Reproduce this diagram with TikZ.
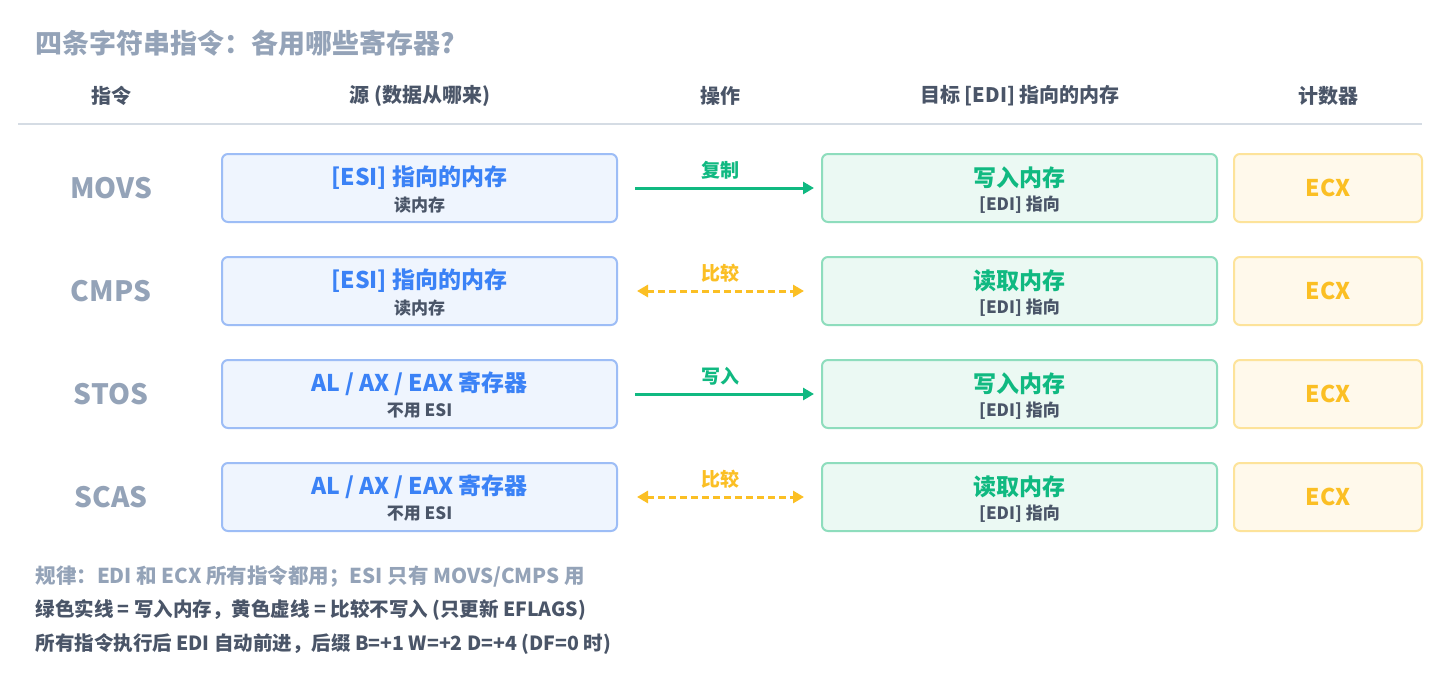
\documentclass[tikz,border=0pt]{standalone}
\usepackage{fontspec}
\setmainfont{Noto Sans CJK SC}
\usetikzlibrary{arrows.meta}
\definecolor{titlegray}{HTML}{94A3B8}
\definecolor{headgray}{HTML}{4A5568}
\definecolor{rulegray}{HTML}{D5DCE4}
\definecolor{srcborder}{HTML}{9DBDF6}
\definecolor{srcfill}{HTML}{EFF5FE}
\definecolor{srctext}{HTML}{3B82F6}
\definecolor{dstborder}{HTML}{8EDDBD}
\definecolor{dstfill}{HTML}{EBF9F3}
\definecolor{dsttext}{HTML}{10B981}
\definecolor{ecxborder}{HTML}{FDE39A}
\definecolor{ecxfill}{HTML}{FFF9EB}
\definecolor{ecxtext}{HTML}{FBBF24}
\definecolor{subgray}{HTML}{4A5568}
\tikzset{
  box/.style={rounded corners=6pt, line width=2pt, minimum height=68pt, inner sep=0pt},
  srcbox/.style={box, draw=srcborder, fill=srcfill, minimum width=395pt},
  dstbox/.style={box, draw=dstborder, fill=dstfill, minimum width=395pt},
  ecxbox/.style={box, draw=ecxborder, fill=ecxfill, minimum width=188pt,
    font=\fontsize{23}{27}\selectfont\bfseries, text=ecxtext},
  rowlabel/.style={font=\fontsize{28}{32}\selectfont\bfseries, text=titlegray},
  headtxt/.style={font=\fontsize{20}{24}\selectfont\bfseries, text=headgray},
  srcmain/.style={font=\fontsize{23}{27}\selectfont\bfseries, text=srctext},
  dstmain/.style={font=\fontsize{23}{27}\selectfont\bfseries, text=dsttext},
  subtxt/.style={font=\fontsize{17}{20}\selectfont\bfseries, text=subgray},
  oplabel/.style={font=\fontsize{19}{22}\selectfont\bfseries},
  writearrow/.style={draw=dsttext, line width=3pt, -{Triangle[length=11pt,width=12pt]},
    shorten <=17pt, shorten >=7pt},
  cmparrow/.style={draw=ecxtext, line width=3pt, dash pattern=on 7pt off 4pt,
    {Triangle[length=11pt,width=12pt]}-{Triangle[length=11pt,width=12pt]},
    shorten <=19pt, shorten >=17pt},
  foot/.style={anchor=west},
}
\begin{document}
\begin{tikzpicture}[x=1pt,y=-1pt]
\useasboundingbox[fill=white] (0,0) rectangle (1440,693);

\node[anchor=west, font=\fontsize{27}{31}\selectfont\bfseries, text=titlegray] (title) at (32,43) {四条字符串指令：各用哪些寄存器?};

\node[headtxt] (h1) at (111,96) {指令};
\node[headtxt] (h2) at (420,96) {源 (数据从哪来)};
\node[headtxt] (h3) at (720,96) {操作};
\node[headtxt] (h4) at (1020,96) {目标 [EDI] 指向的内存};
\node[headtxt] (h5) at (1328,96) {计数器};
\coordinate (rl) at (18,124);
\coordinate (rr) at (1422,124);
\draw[rulegray, line width=1.2pt] (rl) -- (rr);

% rows
\foreach \i/\y/\ins/\smain/\ssub/\dmain/\op/\kind in {
  1/188/MOVS/{[ESI] 指向的内存}/读内存/写入内存/复制/w,
  2/291/CMPS/{[ESI] 指向的内存}/读内存/读取内存/比较/c,
  3/394/STOS/{AL / AX / EAX 寄存器}/不用 ESI/写入内存/写入/w,
  4/497/SCAS/{AL / AX / EAX 寄存器}/不用 ESI/读取内存/比较/c}{
  \node[rowlabel] (lab\i) at (111,\y) {\ins};
  \node[srcbox] (src\i) at (419.5,\y) {};
  \node[srcmain] (srcm\i) at (419.5,\y-10) {\smain};
  \node[subtxt] (srcs\i) at (419.5,\y+17) {\ssub};
  \node[dstbox] (dst\i) at (1019.5,\y) {};
  \node[dstmain] (dstm\i) at (1019.5,\y-10) {\dmain};
  \node[subtxt] (dsts\i) at (1019.5,\y+17) {[EDI] 指向};
  \node[ecxbox] (ecx\i) at (1328,\y) {ECX};
  \if\kind w
    \node[oplabel, text=dsttext] (op\i) at (720,\y-18) {\op};
    \draw[writearrow] (src\i.east) -- (dst\i.west);
  \else
    \node[oplabel, text=ecxtext] (op\i) at (720,\y-18) {\op};
    \draw[cmparrow] (src\i.east) -- (dst\i.west);
  \fi
}

\node[foot, font=\fontsize{20.5}{24}\selectfont\bfseries, text=titlegray] (f1) at (32,577) {规律：EDI 和 ECX 所有指令都用；ESI 只有 MOVS/CMPS 用};
\node[foot, font=\fontsize{19.5}{23}\selectfont\bfseries, text=headgray] (f2) at (32,610) {绿色实线 = 写入内存，黄色虚线 = 比较不写入 (只更新 EFLAGS)};
\node[foot, font=\fontsize{19.5}{23}\selectfont\bfseries, text=headgray] (f3) at (32,644) {所有指令执行后 EDI 自动前进，后缀 B=+1 W=+2 D=+4 (DF=0 时)};
\end{tikzpicture}
\end{document}
